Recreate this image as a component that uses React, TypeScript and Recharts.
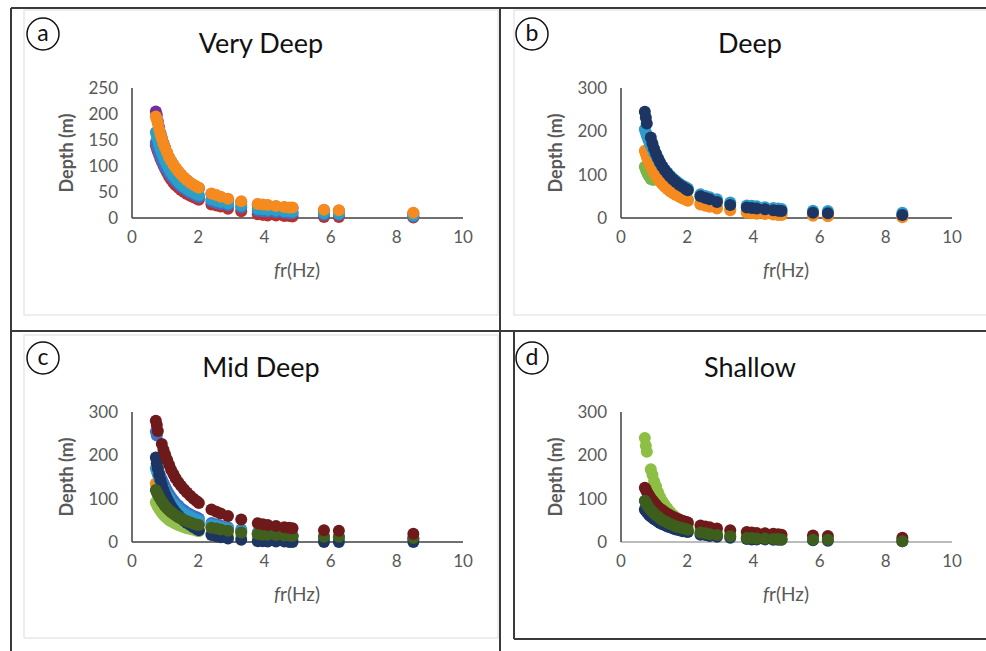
import { ScatterChart, Scatter, XAxis, YAxis } from 'recharts';

// resonance frequency (Hz) shared by every series
const freq = [0.72, 0.75, 0.78, 0.82, 0.86, 0.9, 0.95, 1.0, 1.06, 1.12, 1.18, 1.25, 1.32, 1.4, 1.48, 1.57, 1.66, 1.76, 1.86, 1.96, 2.02, 2.4, 2.55, 2.68, 2.9, 3.3, 3.8, 3.95, 4.1, 4.35, 4.6, 4.75, 4.85, 5.8, 6.25, 8.5];

const xTicks = [0, 2, 4, 6, 8, 10];
const yTicksA = [0, 50, 100, 150, 200, 250];
const yTicks300 = [0, 100, 200, 300];

// (a) Very Deep
const aPurple = [205, 198, 186, 174, 163, 154, 144, 135, 125, 116, 109, 102, 95, 89, 83, 77, 72, 67, 63, 59, 57, 46, 43, 40, 36, 31, 26, 25, 24, 22, 20, 19, 19, 15, 14, 9];
const aRed = [140, 134, 128, 121, 114, 108, 101, 94, 87, 80, 74, 68, 63, 58, 54, 50, 46, 43, 40, 37, 35, 26, 24, 22, 18, 13, 7, 6, 5, 5, 4, 4, 3, 2, 2, 1];
const aBlue = [145, 139, 133, 125, 118, 111, 104, 97, 92, 86, 80, 75, 70, 65, 60, 56, 52, 48, 45, 42, 40, 32, 29, 27, 24, 20, 14, 13, 12, 11, 10, 9, 9, 6, 6, 3];
const aTeal = [165, 158, 150, 141, 133, 126, 118, 110, 102, 95, 88, 82, 76, 70, 65, 60, 56, 52, 49, 46, 44, 36, 33, 31, 28, 24, 18, 17, 16, 15, 13, 13, 12, 9, 8, 5];
const aOrange = [195, 190, 182, 171, 161, 153, 143, 135, 126, 117, 110, 103, 96, 90, 84, 78, 73, 68, 64, 60, 58, 47, 44, 41, 37, 32, 27, 26, 25, 23, 21, 20, 20, 16, 15, 10];

// (b) Deep
const bGreen = [118, 112, 106, 100, 95, 90, 88, 88, 100, 93, 87, 81, 75, 70, 65, 60, 56, 52, 48, 45, 43, 34, 31, 29, 25, 21, 15, 14, 13, 12, 11, 10, 10, 8, 7, 5];
const bOrange = [155, 148, 141, 133, 126, 119, 112, 105, 97, 90, 84, 78, 72, 67, 62, 57, 53, 49, 45, 42, 40, 31, 28, 26, 22, 18, 12, 11, 10, 9, 8, 7, 7, 5, 4, 2];
const bTeal = [205, 198, 190, 182, 175, 168, 160, 152, 143, 135, 127, 119, 112, 105, 98, 92, 86, 80, 75, 71, 68, 55, 51, 48, 43, 36, 29, 28, 27, 25, 23, 22, 21, 17, 16, 12];
const bNavy = [245, 232, 218, null, null, 186, 172, 160, 148, 138, 128, 119, 111, 103, 96, 89, 83, 77, 72, 67, 64, 50, 46, 43, 37, 30, 24, 23, 22, 20, 18, 17, 16, 12, 11, 7];

// (c) Mid Deep
const cBlue = [255, 246, 168, 160, 152, 145, 137, 128, 119, 111, 104, 97, 90, 84, 78, 73, 68, 64, 60, 57, 54, 44, 41, 38, 34, 29, 22, 21, 20, 18, 17, 16, 15, 12, 11, 8];
const cLightGreen = [92, 87, 82, 77, 72, 68, 63, 59, 55, 51, 48, 45, 42, 39, 37, 34, 32, 30, 28, 26, 25, 20, 18, 17, 15, 12, 9, 9, 8, 8, 7, 7, 6, 5, 5, 3];
const cOrange = [135, 130, 124, 117, 111, 105, 99, 93, 87, 81, 76, 71, 66, 62, 58, 54, 51, 48, 45, 43, 41, 34, 32, 30, 27, 23, 18, 17, 16, 15, 14, 13, 13, 10, 9, 6];
const cTeal = [170, 163, 156, 147, 139, 132, 124, 116, 108, 101, 94, 88, 82, 76, 71, 66, 62, 58, 54, 51, 49, 40, 37, 34, 31, 26, 20, 19, 18, 17, 15, 15, 14, 11, 10, 7];
const cNavy = [195, 182, 170, 155, 143, 132, 120, 110, 100, 91, 83, 75, 68, 61, 55, 49, 44, 39, 34, 30, 27, 16, 13, 11, 8, 5, 2, 2, 1, 1, 1, 0, 0, 0, 0, 0];
const cDarkGreen = [120, 115, 110, 104, 99, 94, 88, 83, 78, 73, 69, 65, 61, 57, 54, 51, 48, 45, 42, 40, 39, 33, 31, 29, 26, 22, 18, 17, 17, 16, 15, 15, 14, 12, 12, 9];
const cDarkRed = [280, 270, 256, null, null, 226, 213, 202, 190, 178, 167, 157, 147, 138, 130, 122, 114, 107, 100, 94, 90, 75, 70, 66, 60, 52, 43, 41, 39, 37, 34, 33, 32, 27, 26, 19];

// (d) Shallow
const dNavy = [75, 72, 69, 65, 62, 59, 56, 53, 50, 47, 44, 41, 39, 36, 34, 31, 29, 27, 25, 24, 23, 17, 16, 14, 12, 10, 7, 6, 6, 6, 5, 5, 5, 4, 3, 2];
const dLightGreen = [240, 222, 208, null, null, 168, 155, 140, 128, 115, 104, 94, 86, 78, 70, 63, 57, 52, 47, 43, 41, 28, 26, 24, 21, 18, 14, 13, 13, 12, 11, 11, 10, 8, 8, 5];
const dDarkRed = [125, 121, 116, 111, 106, 101, 96, 91, 86, 81, 77, 73, 69, 65, 62, 58, 55, 52, 49, 47, 45, 38, 36, 34, 31, 27, 23, 22, 21, 20, 19, 18, 17, 15, 14, 10];
const dDarkGreen = [95, 91, 87, 82, 78, 74, 70, 66, 62, 58, 54, 51, 48, 45, 42, 39, 36, 34, 32, 30, 28, 22, 20, 18, 16, 13, 9, 9, 8, 8, 7, 7, 6, 5, 5, 2];

type Series = { values: (number | null)[]; color: string };

const panels = [
  {
    letter: 'a', title: 'Very Deep', left: 0, top: 0, yMax: 250, yTicks: yTicksA, xLine: '#404040',
    series: [
      { values: aPurple, color: '#7030A0' },
      { values: aRed, color: '#BE2F2B' },
      { values: aBlue, color: '#3F6FC8' },
      { values: aTeal, color: '#2BA0C6' },
      { values: aOrange, color: '#F58A1F' },
    ],
  },
  {
    letter: 'b', title: 'Deep', left: 489, top: 0, yMax: 300, yTicks: yTicks300, xLine: '#404040',
    series: [
      { values: bGreen, color: '#7AB648' },
      { values: bOrange, color: '#F58A1F' },
      { values: bTeal, color: '#2E9BCB' },
      { values: bNavy, color: '#1C3563' },
    ],
  },
  {
    letter: 'c', title: 'Mid Deep', left: 0, top: 324, yMax: 300, yTicks: yTicks300, xLine: '#404040',
    series: [
      { values: cBlue, color: '#3F6FC8' },
      { values: cLightGreen, color: '#92C050' },
      { values: cOrange, color: '#F58A1F' },
      { values: cTeal, color: '#2E9BCB' },
      { values: cNavy, color: '#1C3563' },
      { values: cDarkGreen, color: '#415F1E' },
      { values: cDarkRed, color: '#6E1A1A' },
    ],
  },
  {
    letter: 'd', title: 'Shallow', left: 489, top: 324, yMax: 300, yTicks: yTicks300, xLine: '#a6a6a6',
    series: [
      { values: dNavy, color: '#1C3563' },
      { values: dLightGreen, color: '#8CBF44' },
      { values: dDarkRed, color: '#6E1A1A' },
      { values: dDarkGreen, color: '#3D5E1C' },
    ],
  },
];

const tickStyle = { fill: '#595959', fontSize: 17, fontFamily: 'Lato' };

function Panel({ p }: { p: (typeof panels)[number] }) {
  // plot area starts at (132, 88) inside each panel block
  const plotX = 132 + p.left;
  const plotY = 88 + p.top;
  return (
    <div style={{ position: 'absolute', left: plotX - 100, top: plotY - 60 }}>
      <ScatterChart width={480} height={300} margin={{ top: 60, right: 49, bottom: 80, left: 40 }}>
        <XAxis
          type="number"
          dataKey="fr"
          domain={[0, 10]}
          ticks={xTicks}
          tickSize={0}
          tickMargin={13}
          tick={tickStyle}
          height={30}
          axisLine={{ stroke: p.xLine, strokeWidth: 1.5 }}
        />
        <YAxis
          type="number"
          dataKey="depth"
          domain={[0, p.yMax]}
          ticks={p.yTicks}
          tickSize={0}
          tickMargin={14}
          tick={tickStyle}
          width={60}
          axisLine={{ stroke: '#404040', strokeWidth: 1.5 }}
        />
        {p.series.map((s: Series, i: number) => (
          <Scatter
            key={i}
            data={freq
              .map((f, j) => ({ fr: f, depth: s.values[j] }))
              .filter((d) => d.depth !== null)}
            fill={s.color}
            isAnimationActive={false}
            shape={(props: any) => <circle cx={props.cx} cy={props.cy} r={6} fill={s.color} />}
          />
        ))}
      </ScatterChart>
    </div>
  );
}

function Labels({ p }: { p: (typeof panels)[number] }) {
  const ox = p.left;
  const oy = p.top;
  return (
    <g>
      <circle cx={43 + ox} cy={34 + oy} r={16} fill="none" stroke="#111" strokeWidth={1.5} />
      <text x={43 + ox} y={41 + oy} textAnchor="middle" fontFamily="Lato" fontSize={23} fill="#111">
        {p.letter}
      </text>
      <text x={261 + ox} y={53 + oy} textAnchor="middle" fontFamily="Lato" fontSize={27} fill="#111">
        {p.title}
      </text>
      <text
        x={66 + ox}
        y={153 + oy}
        transform={`rotate(-90 ${66 + ox} ${153 + oy})`}
        textAnchor="middle"
        dominantBaseline="central"
        fontFamily="Lato"
        fontWeight={700}
        fontSize={18}
        fill="#595959"
      >
        Depth (m)
      </text>
      <text x={297 + ox} y={277 + oy} textAnchor="middle" fontFamily="Lato" fontSize={19} fill="#595959">
        <tspan fontStyle="italic">f</tspan>r(Hz)
      </text>
    </g>
  );
}

export default function App() {
  return (
    <div style={{ position: 'absolute', left: 0, top: 0, width: 986, height: 651, background: '#fff', overflow: 'hidden' }}>
      {panels.map((p) => (
        <Panel key={p.letter} p={p} />
      ))}
      <svg width={986} height={651} style={{ position: 'absolute', left: 0, top: 0, pointerEvents: 'none' }}>
        {/* light chart-area frames */}
        <rect x={24} y={10} width={474} height={305} fill="none" stroke="#dcdcdc" />
        <rect x={514} y={10} width={480} height={305} fill="none" stroke="#dcdcdc" />
        <rect x={24} y={335} width={474} height={303} fill="none" stroke="#dcdcdc" />
        {/* dark figure grid */}
        <g stroke="#3a3a3a" strokeWidth={2}>
          <line x1={11} y1={8} x2={986} y2={8} />
          <line x1={11} y1={8} x2={11} y2={651} />
          <line x1={500} y1={8} x2={500} y2={651} />
          <line x1={11} y1={331} x2={986} y2={331} />
          <line x1={514} y1={331} x2={514} y2={639} />
          <line x1={514} y1={639} x2={986} y2={639} />
        </g>
        {panels.map((p) => (
          <Labels key={p.letter} p={p} />
        ))}
      </svg>
    </div>
  );
}
